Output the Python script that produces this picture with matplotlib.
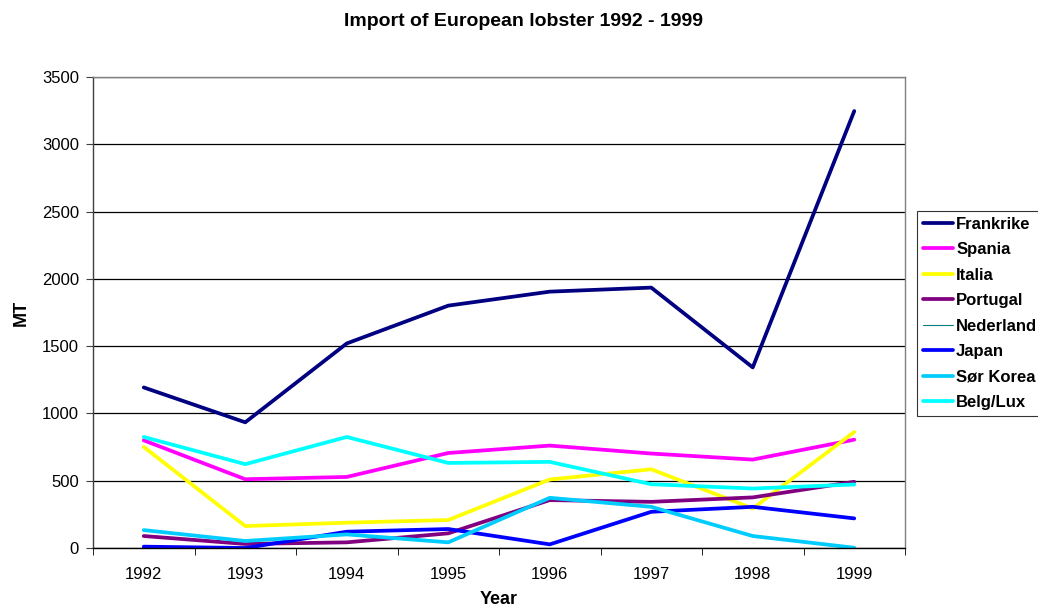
import numpy as np
import matplotlib
matplotlib.use("Agg")
import matplotlib.pyplot as plt

plt.rcParams['font.family'] = ['Liberation Sans', 'DejaVu Sans']

years = ['1992', '1993', '1994', '1995', '1996', '1997', '1998', '1999']

frankrike = [1193, 934, 1520, 1801, 1905, 1935, 1342, 3247]
spania = [800, 511, 528, 706, 761, 702, 657, 805]
italia = [751, 163, 188, 208, 509, 585, 294, 862]
portugal = [89, 30, 42, 109, 356, 343, 376, 492]
nederland = [np.nan] * 8  # no visible values in the chart
japan = [10, 0, 121, 141, 27, 269, 306, 220]
sor_korea = [133, 52, 101, 42, 373, 306, 89, 2]
belg_lux = [825, 623, 825, 632, 640, 474, 442, 472]

series = [
    ('Frankrike', frankrike, '#000080', 2.7),
    ('Spania', spania, '#FF00FF', 2.7),
    ('Italia', italia, '#FFFF00', 2.7),
    ('Portugal', portugal, '#800080', 2.7),
    ('Nederland', nederland, '#008080', 0.8),
    ('Japan', japan, '#0000FF', 2.7),
    ('Sør Korea', sor_korea, '#00CCFF', 2.7),
    ('Belg/Lux', belg_lux, '#00FFFF', 2.7),
]

fig = plt.figure(figsize=(10.38, 6.15), dpi=100)
ax = fig.add_axes([93 / 1038, 1 - 548 / 615, (905 - 93) / 1038, (548 - 77) / 615])

x = np.arange(len(years))
for name, vals, col, lw in series:
    ax.plot(x, vals, color=col, lw=lw, label=name, solid_capstyle='round')

ax.set_xlim(-0.5, len(years) - 0.5)
ax.set_ylim(0, 3500)
ax.set_yticks(np.arange(0, 3501, 500))
ax.set_xticks(x)
ax.set_xticklabels(years)
ax.set_xticks(np.arange(-0.5, len(years), 1), minor=True)
ax.tick_params(axis='x', which='major', length=0, pad=14, labelsize=12)
ax.tick_params(axis='x', which='minor', length=5, direction='out', color='black')
ax.tick_params(axis='y', length=5, direction='out', labelsize=12, color='#404040', pad=5)
ax.yaxis.grid(True, color='black', lw=0.9)
ax.set_axisbelow(True)

ax.spines['top'].set_color('#808080')
ax.spines['right'].set_color('#808080')
ax.spines['left'].set_color('#404040')
ax.spines['bottom'].set_color('black')
for s in ax.spines.values():
    s.set_linewidth(1)

ax.set_xlabel('Year', fontsize=13, fontweight='bold', labelpad=6)
ax.set_ylabel('MT', fontsize=13, fontweight='bold', labelpad=9)
fig.text(523 / 1038, 1 - 21 / 615, 'Import of European lobster 1992 - 1999',
         ha='center', va='center', fontsize=14, fontweight='bold')

leg = fig.legend(loc='upper left', bbox_to_anchor=(917 / 1038, 1 - 211 / 615),
                 prop={'weight': 'bold', 'size': 12}, frameon=True, fancybox=False,
                 handlelength=1.8, handletextpad=0.2, labelspacing=0.63,
                 borderpad=0.35, borderaxespad=0)
leg.get_frame().set_edgecolor('black')
leg.get_frame().set_linewidth(0.8)

fig.savefig('out.png', dpi=100)
